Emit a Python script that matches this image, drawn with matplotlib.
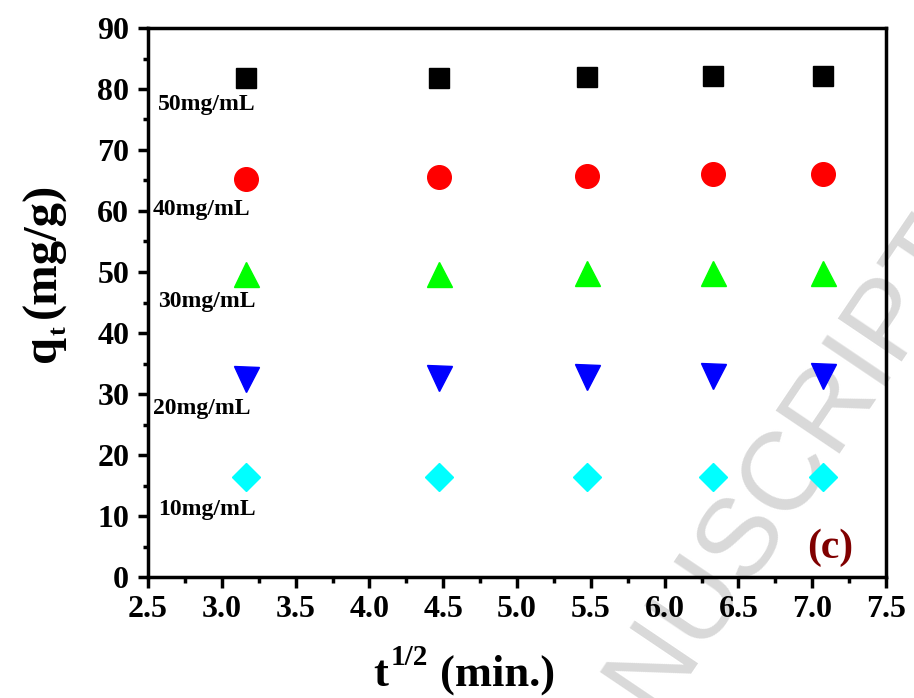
import numpy as np
import matplotlib
matplotlib.use("Agg")
import matplotlib.pyplot as plt
from matplotlib.ticker import MultipleLocator

t_half = [3.162, 4.472, 5.477, 6.325, 7.071]
q_50 = [81.8, 81.8, 82.0, 82.1, 82.2]
q_40 = [65.2, 65.5, 65.7, 66.0, 66.0]
q_30 = [49.7, 49.7, 49.8, 49.8, 49.9]
q_20 = [32.5, 32.6, 32.8, 32.9, 33.0]
q_10 = [16.4, 16.4, 16.4, 16.4, 16.4]
series_labels = ["50mg/mL", "40mg/mL", "30mg/mL", "20mg/mL", "10mg/mL"]
label_pos = [(2.568, 77.4), (2.534, 60.2), (2.568, 45.1), (2.534, 27.7), (2.568, 11.1)]

plt.rcParams['font.family'] = ['Liberation Serif', 'DejaVu Serif']
plt.rcParams['font.weight'] = 'bold'

W, H = 914, 698
fig = plt.figure(figsize=(W/100, H/100), dpi=100)
ax = fig.add_axes([148/W, 1 - 577/H, (886-148)/W, (577-28)/H])
ax.set_facecolor('none')

def fx(x):
    return x / W

def fy(y):
    return 1 - y / H

# watermark
fig.text(fx(977), fy(251), "ACCEPTED MANUSCRIPT", fontsize=80, color='#d9d9d9',
         family='Liberation Sans', fontweight='normal', rotation=56,
         ha='right', va='baseline', rotation_mode='anchor', zorder=-10)

ax.plot(t_half, q_50, 's', color='black', ms=14.5, mec='black', ls='none', zorder=3)
ax.plot(t_half, q_40, 'o', color='red', ms=17, mec='red', ls='none', zorder=3)
ax.plot(t_half, q_30, '^', color='#00ff00', ms=18, mec='#00ff00', ls='none', zorder=3)
ax.plot(t_half, q_20, 'v', color='blue', ms=18, mec='blue', ls='none', zorder=3)
ax.plot(t_half, q_10, 'D', color='cyan', ms=14.5, mec='cyan', ls='none', zorder=3)

for lab, (x, y) in zip(series_labels, label_pos):
    ax.text(x, y, lab, fontsize=17, fontweight='bold', ha='left', va='center')

ax.text(7.12, 4.8, "(c)", fontsize=30, fontweight='bold', color='#800000', ha='center', va='center')

ax.set_xlim(2.5, 7.5)
ax.set_ylim(0, 90)
ax.xaxis.set_major_locator(MultipleLocator(0.5))
ax.xaxis.set_minor_locator(MultipleLocator(0.25))
ax.yaxis.set_major_locator(MultipleLocator(10))
ax.yaxis.set_minor_locator(MultipleLocator(5))
ax.tick_params(which='both', direction='out', width=2.5, labelsize=23)
ax.tick_params(axis='x', which='major', length=8, pad=5)
ax.tick_params(axis='x', which='minor', length=4)
ax.tick_params(axis='y', which='major', length=7.5, pad=6)
ax.tick_params(axis='y', which='minor', length=3.5)
for lab in ax.get_xticklabels() + ax.get_yticklabels():
    lab.set_fontweight('bold')
for s in ax.spines.values():
    s.set_linewidth(2.5)

# x axis title: t^(1/2) (min.)
fig.text(fx(373), fy(686), "t", fontsize=32, fontweight='bold', ha='left', va='baseline')
fig.text(fx(391), fy(665), "1/2", fontsize=21, fontweight='bold', ha='left', va='baseline')
fig.text(fx(440), fy(686), "(min.)", fontsize=32, fontweight='bold', ha='left', va='baseline')

# y axis title: q_t (mg/g)
fig.text(fx(55), fy(362), "q", fontsize=35, fontweight='bold', rotation=90,
         ha='left', va='baseline', rotation_mode='anchor')
fig.text(fx(66), fy(335), "t", fontsize=19, fontweight='bold', rotation=90,
         ha='left', va='baseline', rotation_mode='anchor')
fig.text(fx(55), fy(318), "(mg/g)", fontsize=35, fontweight='bold', rotation=90,
         ha='left', va='baseline', rotation_mode='anchor')

fig.savefig("out.png", dpi=100)
